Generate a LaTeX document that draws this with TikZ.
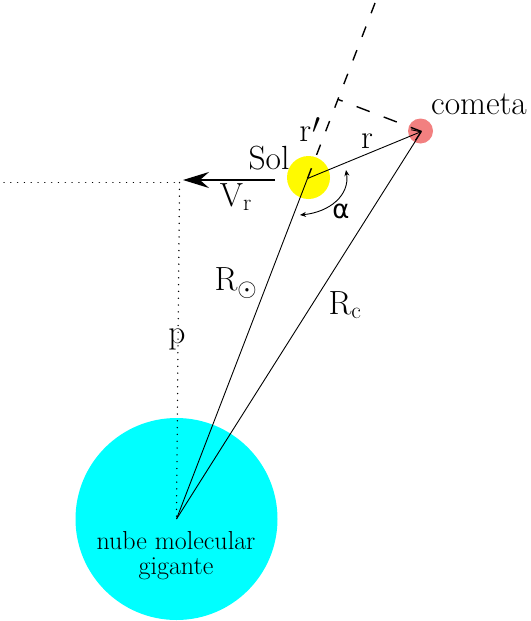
\documentclass[tikz,border=0pt]{standalone}
\usepackage{fontspec}
\usepackage{graphicx}
\newfontfamily\dejavu{DejaVu Sans}
\usetikzlibrary{arrows.meta,calc}
\definecolor{cloudcyan}{RGB}{0,255,255}
\definecolor{sunyellow}{RGB}{255,250,0}
\definecolor{cometred}{RGB}{242,128,128}
\begin{document}
\begin{tikzpicture}[x=1pt,y=-1pt,
  lbl/.style={font=\fontsize{33.5}{38}\selectfont, inner sep=0pt, anchor=center},
  thinline/.style={line width=0.9pt},
  dashline/.style={line width=1.4pt, dash pattern=on 11pt off 14.3pt},
  perpline/.style={line width=1.4pt, dash pattern=on 14pt off 15pt, dash phase=9pt},
  dotline/.style={line width=1.5pt, dash pattern=on 0.01pt off 6.8pt, line cap=round},
  body/.style={circle, inner sep=0pt}
 ]
\useasboundingbox (0,0) rectangle (530,621);
% bodies
\node[body, fill=cloudcyan, minimum size=202pt] (cloud) at (176.5,519) {};
\node[body, fill=sunyellow, minimum size=43pt] (sun) at (308.5,177.5) {};
\node[body, fill=cometred, minimum size=25pt] (comet) at (420.5,131) {};
% key points
\coordinate (C) at (176.5,519);
\coordinate (S) at (307.5,178.5);
\coordinate (K) at (421.5,131.5);
\coordinate (top) at ($(C)!1.523!(S)$);
\coordinate (foot) at ($(C)!(K)!(top)$);
\coordinate (corner) at (179.5,182.5);
\coordinate (farleft) at (4,182.5);
\coordinate (vstart) at (275,180);
\coordinate (vend) at (183,180);
\coordinate (aup) at (346,170);
\coordinate (alow) at (300,215);
% dotted guides
\draw[dotline] (farleft) -- (corner);
\draw[dotline] (corner) -- (C);
% dashed lines
\draw[dashline] (S) -- (top);
\draw[perpline] (foot) -- (K);
% radius lines
\draw[thinline] (C) -- (S);
\draw[thinline] (C) -- (K);
\draw[thinline, -{Straight Barb[length=8pt,width=11pt]}] (S) -- (K);
% angle alpha
\draw[thinline, {Stealth[length=6pt,width=5pt]}-{Stealth[length=6pt,width=5pt]}]
  (aup) .. controls (350,195) and (330,212) .. (alow);
% velocity
\draw[line width=2pt, -{Stealth[length=26pt,width=16pt,inset=9pt]}] (vstart) -- (vend);
% labels
\node[lbl] (lsol) at (269,158) {Sol};
\node[lbl] (lcometa) at (479,104) {cometa};
\node[lbl] (lrp) at (310,131) {r\kern1pt\raisebox{-3pt}{\scalebox{1.15}{$'$}}};
\node[lbl] (lr) at (367,141) {r};
\node[lbl] (lvr) at (236,197) {V\textsubscript{r}};
\node[lbl, font=\dejavu\fontsize{26}{30}\selectfont] (lalpha) at (341,211) {α};
\node[lbl] (lrsun) at (236,283) {R$_{\odot}$};
\node[lbl] (lrc) at (345,305) {R\textsubscript{c}};
\node[lbl] (lp) at (177,339) {p};
\node[inner sep=0pt, align=center, font=\fontsize{26}{25}\selectfont] (lnube) at (176,556) {nube molecular\\gigante};
\end{tikzpicture}
\end{document}
